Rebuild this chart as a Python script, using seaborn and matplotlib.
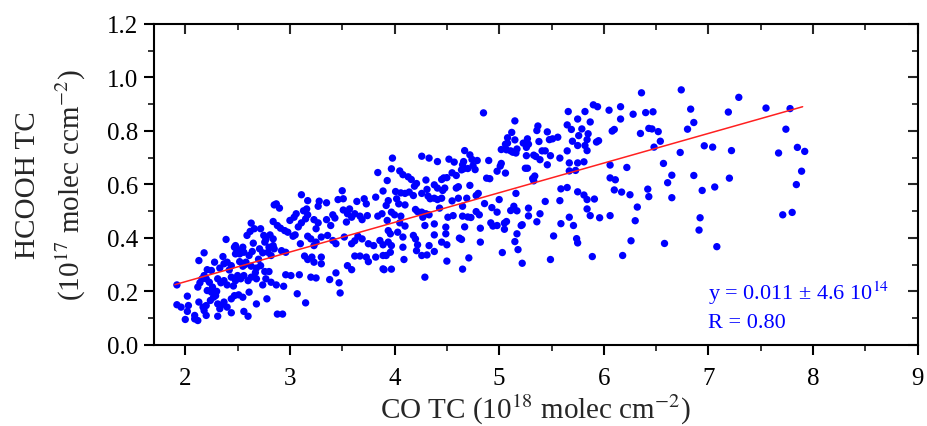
import matplotlib
matplotlib.use("Agg")
import matplotlib.pyplot as plt
import seaborn as sns
import pandas as pd
from matplotlib.ticker import MultipleLocator, FormatStrFormatter, NullFormatter

# ---- data ----
co_tc = [
    # x > 7
    7.29, 7.19, 7.55, 7.78, 7.74, 7.22, 7.67, 7.85, 7.92, 7.89, 7.84, 7.20, 7.06, 7.71, 7.80, 7.08,
    # 6 - 7
    6.05, 6.16, 6.36, 6.74, 6.28, 6.40, 6.47, 6.83, 6.16, 6.86, 6.08, 6.10, 6.35, 6.43, 6.46, 6.52,
    6.80, 6.54, 6.48, 6.73, 6.96, 7.04, 6.06, 6.22, 6.57, 6.06, 6.11, 6.65, 6.86, 6.61, 6.10, 6.17,
    6.25, 6.42, 6.43, 6.65, 6.94, 6.32, 6.06, 6.30, 6.92, 6.91, 6.26, 6.58, 6.18,
    # 5 - 6
    5.90, 5.94, 5.66, 5.82, 5.15, 5.75, 5.87, 5.37, 5.65, 5.36, 5.46, 5.69, 5.79, 5.12, 5.85, 5.08,
    5.15, 5.27, 5.38, 5.48, 5.51, 5.56, 5.70, 5.76, 5.84, 5.06, 5.08, 5.23, 5.28, 5.75, 5.82, 5.93,
    5.95, 5.02, 5.07, 5.11, 5.13, 5.16, 5.17, 5.26, 5.41, 5.44, 5.65, 5.84, 5.26, 5.33, 5.35, 5.39,
    5.49, 5.58, 5.02, 5.01, 5.46, 5.67, 5.75, 5.81, 5.25, 5.27, 4.98, 5.06, 5.67, 5.73, 5.32, 5.34,
    5.33, 5.59, 5.65, 5.16, 5.75, 5.81, 5.84, 5.91, 5.00, 5.44, 5.58, 5.14, 5.11, 5.17, 5.28, 5.84,
    4.98, 5.39, 5.28, 5.67, 5.87, 5.96, 5.07, 5.05, 5.36, 5.21, 5.22, 4.98, 5.59, 5.71, 5.05, 5.17,
    5.52, 5.74, 5.75, 5.15, 5.18, 5.03, 5.89, 5.22, 5.49,
    # 3.9 - 5
    4.85, 4.67, 4.26, 4.33, 3.98, 4.41, 4.52, 4.57, 4.72, 4.74, 4.66, 4.79, 4.90, 3.97, 4.05, 4.08,
    4.13, 4.16, 4.30, 4.45, 4.47, 4.50, 4.55, 4.59, 4.64, 4.66, 4.65, 4.70, 4.75, 4.77, 4.88, 4.91,
    3.93, 4.21, 4.19, 4.38, 4.41, 4.59, 4.61, 4.72, 4.01, 4.06, 4.10, 4.14, 4.18, 4.26, 4.31, 4.32,
    4.34, 4.38, 4.41, 4.45, 4.46, 4.48, 4.61, 4.69, 4.78, 4.80, 4.86, 4.93, 3.94, 3.92, 4.02, 4.04,
    4.10, 3.97, 4.00, 4.06, 4.20, 4.22, 4.26, 4.30, 4.33, 4.43, 4.55, 4.65, 4.70, 4.73, 4.65, 4.78,
    4.81, 3.93, 4.05, 4.10, 4.27, 4.29, 4.38, 4.49, 4.51, 4.56, 4.67, 4.82, 4.92, 4.94, 3.94, 3.96,
    4.03, 4.08, 4.18, 4.20, 4.38, 4.49, 4.62, 4.64, 3.94, 3.97, 4.08, 4.22, 4.33, 4.45, 4.50, 4.82,
    3.96, 3.92, 4.21, 4.26, 4.31, 4.38, 4.09, 4.50, 4.71, 3.90, 3.97, 4.65, 4.29,
    # 2.85 - 3.9
    3.84, 3.89, 3.11, 3.50, 3.17, 3.28, 3.35, 3.46, 3.51, 3.27, 3.16, 3.13, 3.64, 3.71, 3.73, 3.82,
    2.87, 2.90, 3.06, 3.04, 3.00, 3.17, 3.15, 3.11, 3.08, 3.23, 3.27, 3.25, 3.35, 3.41, 3.43, 3.39,
    3.51, 3.55, 3.59, 3.54, 3.57, 3.62, 3.67, 3.69, 3.74, 3.84, 3.88, 2.88, 2.91, 2.95, 2.98, 3.03,
    3.05, 3.10, 3.17, 3.20, 3.25, 3.23, 3.30, 3.36, 3.41, 3.44, 3.52, 3.59, 3.62, 3.65, 3.69, 3.75,
    3.80, 3.86, 3.89, 2.85, 2.92, 2.96, 3.14, 3.17, 3.21, 3.23, 3.30, 3.30, 3.62, 3.67, 3.73, 3.75,
    3.82, 3.89, 3.89, 3.55, 3.59, 2.96, 3.01, 3.09, 3.20, 3.25, 3.44, 3.38, 3.47, 2.87, 2.94, 3.48,
    3.07, 3.15, 2.88, 2.93,
    # 1.9 - 2.85
    2.85, 2.63, 2.66, 2.62, 2.59, 2.72, 2.75, 2.77, 2.76, 2.81, 2.84, 2.80, 2.84, 2.84, 2.39, 2.47,
    2.49, 2.48, 2.52, 2.56, 2.61, 2.64, 2.71, 2.74, 2.79, 2.82, 2.18, 2.13, 2.28, 2.37, 2.40, 2.44,
    2.33, 2.21, 2.25, 2.18, 2.16, 2.52, 2.55, 2.58, 2.63, 2.68, 2.72, 2.76, 2.80, 2.77, 2.82, 2.74,
    1.92, 2.12, 2.14, 2.20, 2.23, 2.26, 2.21, 2.31, 2.34, 2.37, 2.40, 2.44, 2.48, 2.50, 2.53, 2.56,
    2.60, 2.63, 2.68, 2.02, 1.92, 1.96, 2.03, 2.13, 2.17, 2.20, 2.18, 2.25, 2.27, 2.29, 2.24, 2.31,
    2.34, 2.37, 2.40, 2.33, 2.44, 2.47, 2.51, 2.55, 2.61, 2.68, 2.78, 2.02, 2.09, 2.12, 2.00, 2.20,
    2.31, 2.44, 2.56, 2.60, 2.09, 2.48, 2.52, 2.55, 2.36, 2.42, 2.57, 2.65, 2.70, 2.30, 2.46, 2.67,
]
hcooh_tc = [
    # x > 7
    0.925, 0.870, 0.885, 0.883, 0.806, 0.726, 0.717, 0.738, 0.723, 0.649, 0.599, 0.623, 0.590, 0.486, 0.495, 0.367,
    # 6 - 7
    0.877, 0.890, 0.942, 0.953, 0.862, 0.868, 0.871, 0.881, 0.844, 0.831, 0.799, 0.805, 0.790, 0.809, 0.807, 0.797,
    0.806, 0.761, 0.739, 0.719, 0.744, 0.739, 0.672, 0.663, 0.678, 0.624, 0.617, 0.634, 0.633, 0.606, 0.579, 0.571,
    0.561, 0.582, 0.554, 0.550, 0.577, 0.515, 0.483, 0.464, 0.475, 0.429, 0.389, 0.379, 0.334,
    # 5 - 6
    0.897, 0.890, 0.872, 0.872, 0.837, 0.844, 0.833, 0.818, 0.822, 0.801, 0.796, 0.805, 0.807, 0.794, 0.789, 0.774,
    0.766, 0.770, 0.760, 0.767, 0.770, 0.776, 0.761, 0.782, 0.767, 0.750, 0.754, 0.754, 0.750, 0.745, 0.745, 0.758,
    0.763, 0.730, 0.729, 0.725, 0.720, 0.717, 0.732, 0.738, 0.725, 0.725, 0.725, 0.726, 0.707, 0.709, 0.704, 0.692,
    0.707, 0.698, 0.678, 0.668, 0.673, 0.680, 0.680, 0.684, 0.660, 0.660, 0.649, 0.642, 0.650, 0.652, 0.622, 0.631,
    0.613, 0.583, 0.588, 0.566, 0.572, 0.560, 0.543, 0.545, 0.543, 0.536, 0.539, 0.518, 0.502, 0.501, 0.511, 0.508,
    0.496, 0.490, 0.482, 0.477, 0.483, 0.475, 0.461, 0.455, 0.460, 0.446, 0.449, 0.446, 0.453, 0.446, 0.432, 0.415,
    0.407, 0.397, 0.381, 0.386, 0.356, 0.345, 0.330, 0.305, 0.319,
    # 3.9 - 5
    0.867, 0.726, 0.705, 0.698, 0.698, 0.685, 0.694, 0.683, 0.710, 0.693, 0.685, 0.689, 0.689, 0.658, 0.650, 0.636,
    0.628, 0.618, 0.616, 0.618, 0.624, 0.625, 0.643, 0.633, 0.654, 0.658, 0.673, 0.659, 0.670, 0.655, 0.623, 0.621,
    0.614, 0.603, 0.593, 0.598, 0.586, 0.586, 0.591, 0.596, 0.573, 0.568, 0.566, 0.571, 0.558, 0.566, 0.581, 0.556,
    0.546, 0.548, 0.543, 0.548, 0.577, 0.586, 0.548, 0.548, 0.558, 0.566, 0.528, 0.513, 0.539, 0.521, 0.546, 0.527,
    0.523, 0.496, 0.486, 0.481, 0.506, 0.498, 0.496, 0.490, 0.486, 0.511, 0.538, 0.518, 0.478, 0.476, 0.481, 0.498,
    0.486, 0.465, 0.456, 0.444, 0.477, 0.446, 0.452, 0.440, 0.477, 0.483, 0.441, 0.436, 0.456, 0.444, 0.427, 0.415,
    0.421, 0.403, 0.409, 0.396, 0.411, 0.415, 0.399, 0.394, 0.384, 0.371, 0.365, 0.374, 0.371, 0.384, 0.374, 0.384,
    0.346, 0.334, 0.352, 0.334, 0.336, 0.349, 0.319, 0.313, 0.325, 0.281, 0.283, 0.283, 0.253,
    # 2.85 - 3.9
    0.644, 0.575, 0.561, 0.576, 0.539, 0.537, 0.531, 0.543, 0.546, 0.518, 0.508, 0.501, 0.536, 0.546, 0.527, 0.552,
    0.527, 0.511, 0.490, 0.477, 0.465, 0.486, 0.471, 0.456, 0.441, 0.468, 0.456, 0.434, 0.468, 0.486, 0.474, 0.446,
    0.504, 0.490, 0.477, 0.459, 0.508, 0.490, 0.481, 0.468, 0.483, 0.481, 0.490, 0.446, 0.436, 0.427, 0.421, 0.406,
    0.411, 0.378, 0.406, 0.396, 0.384, 0.371, 0.403, 0.409, 0.390, 0.378, 0.403, 0.378, 0.389, 0.406, 0.396, 0.378,
    0.371, 0.390, 0.374, 0.359, 0.352, 0.346, 0.332, 0.319, 0.328, 0.309, 0.328, 0.303, 0.332, 0.332, 0.328, 0.311,
    0.328, 0.334, 0.284, 0.296, 0.281, 0.262, 0.259, 0.262, 0.253, 0.250, 0.269, 0.244, 0.232, 0.224, 0.219, 0.194,
    0.191, 0.157, 0.115, 0.115,
    # 1.9 - 2.85
    0.523, 0.455, 0.434, 0.424, 0.409, 0.434, 0.409, 0.394, 0.384, 0.411, 0.396, 0.365, 0.371, 0.461, 0.394, 0.365,
    0.359, 0.340, 0.340, 0.346, 0.334, 0.349, 0.359, 0.344, 0.346, 0.334, 0.344, 0.315, 0.309, 0.303, 0.309, 0.296,
    0.287, 0.281, 0.278, 0.259, 0.247, 0.311, 0.294, 0.309, 0.294, 0.287, 0.296, 0.274, 0.274, 0.247, 0.234, 0.224,
    0.224, 0.216, 0.232, 0.247, 0.234, 0.216, 0.203, 0.247, 0.232, 0.240, 0.224, 0.253, 0.240, 0.259, 0.247, 0.259,
    0.240, 0.253, 0.247, 0.182, 0.150, 0.141, 0.147, 0.160, 0.141, 0.147, 0.128, 0.197, 0.178, 0.184, 0.166, 0.153,
    0.147, 0.160, 0.141, 0.135, 0.172, 0.184, 0.187, 0.178, 0.197, 0.153, 0.172, 0.125, 0.110, 0.091, 0.095, 0.110,
    0.107, 0.120, 0.125, 0.107, 0.097, 0.371, 0.349, 0.365, 0.330, 0.280, 0.300, 0.380, 0.320, 0.200, 0.220, 0.270,
]
fit_x = [1.90, 7.90]
fit_y = [0.225, 0.890]

x_ticks = [2, 3, 4, 5, 6, 7, 8, 9]
y_ticks = [0.0, 0.2, 0.4, 0.6, 0.8, 1.0, 1.2]

df = pd.DataFrame({"co": co_tc, "hcooh": hcooh_tc})
fit_df = pd.DataFrame({"x": fit_x, "y": fit_y})

sns.set_theme(style="ticks")
plt.rcParams["font.family"] = ["Liberation Serif", "DejaVu Serif"]
plt.rcParams["mathtext.fontset"] = "stix"

fig = plt.figure(figsize=(9.27, 4.27), dpi=100)
ax = fig.add_axes([0.166, 0.19, 0.824, 0.752])

sns.scatterplot(data=df, x="co", y="hcooh", ax=ax, color="#0000ff",
                s=28, edgecolor="none", linewidth=0, legend=False, zorder=3)
sns.lineplot(data=fit_df, x="x", y="y", ax=ax, color="#ff2020",
             linewidth=1.1, legend=False, zorder=4)

ax.set_xlim(1.7, 9.0)
ax.set_ylim(0.0, 1.2)
ax.set_xticks(x_ticks)
ax.set_yticks(y_ticks)
ax.xaxis.set_minor_locator(MultipleLocator(0.5))
ax.yaxis.set_minor_locator(MultipleLocator(0.1))
ax.yaxis.set_major_formatter(FormatStrFormatter("%.1f"))

for sp in ax.spines.values():
    sp.set_visible(True)
    sp.set_linewidth(1.5)
    sp.set_color("black")

ax.tick_params(axis="both", which="major", direction="out", length=7, width=1.5,
               labelsize=18, colors="black")
ax.tick_params(axis="both", which="minor", direction="out", length=4, width=1.3)
ax.tick_params(axis="x", which="major", pad=9)
ax.tick_params(axis="y", which="major", pad=4)

# mirrored inward ticks on the right and top (no labels)
sec_r = ax.secondary_yaxis("right")
sec_r.set_yticks(y_ticks)
sec_r.yaxis.set_minor_locator(MultipleLocator(0.1))
sec_r.yaxis.set_major_formatter(NullFormatter())
sec_r.tick_params(which="major", direction="in", length=7, width=1.5)
sec_r.tick_params(which="minor", direction="in", length=4, width=1.3)
sec_t = ax.secondary_xaxis("top")
sec_t.set_xticks(x_ticks)
sec_t.xaxis.set_minor_locator(MultipleLocator(0.5))
sec_t.xaxis.set_major_formatter(NullFormatter())
sec_t.tick_params(which="major", direction="in", length=7, width=1.5)
sec_t.tick_params(which="minor", direction="in", length=4, width=1.3)

ax.set_xlabel("CO TC (10$^{18}$ molec cm$^{-2}$)", fontsize=21, labelpad=2)
ax.set_ylabel("HCOOH TC\n(10$^{17}$ molec ccm$^{-2}$)", fontsize=21, labelpad=14,
              linespacing=1.5)

ax.text(0.725, 0.143, "y = 0.011 ± 4.6 10$^{14}$", transform=ax.transAxes,
        color="#0000ff", fontsize=16, va="baseline", ha="left")
ax.text(0.725, 0.056, "R = 0.80", transform=ax.transAxes,
        color="#0000ff", fontsize=16, va="baseline", ha="left")

fig.savefig("out.png", dpi=100)
